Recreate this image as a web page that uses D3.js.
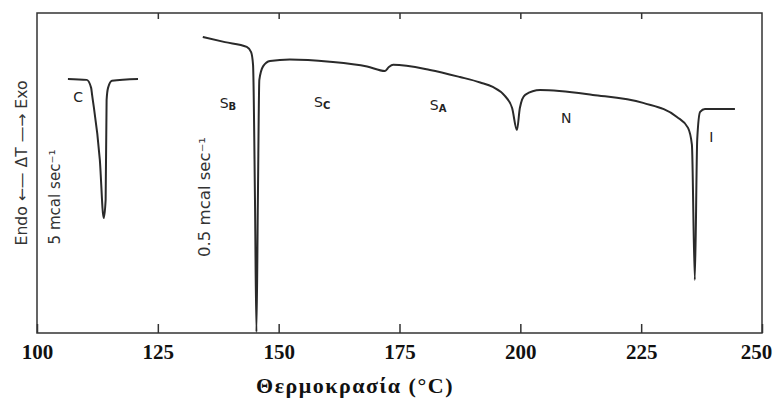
<!DOCTYPE html>
<html>
<head>
    <meta charset="utf-8">
    <title>DSC thermogram</title>
    <script src="https://d3js.org/d3.v7.min.js"></script>
    <style>
        body { margin: 0; background: #fff; }
        .tick text { font-family: "Liberation Serif", serif; font-weight: bold; font-size: 21px; fill: #111; }
        .phase { font-family: "DejaVu Sans", sans-serif; font-size: 14px; fill: #222; }
        .vlab { font-family: "Liberation Sans Narrow", "DejaVu Sans Condensed", sans-serif; font-size: 15px; fill: #333; }
    </style>
</head>
<body>
    <svg id="chart"></svg>

    <script>
        // Temperature ticks (°C)
        const xTicks = [100, 125, 150, 175, 200, 225, 250];

        // Crystal -> smectic peak, recorded at 5 mcal/sec (temperature, signal in arbitrary units)
        const peakTemp = [106.4, 110.3, 111.2, 111.4, 113.0, 113.8, 114.2, 114.4, 114.7, 115.5, 120.9];
        const peakSignal = [79.4, 79.1, 76.6, 74.4, 54.1, 35.9, 41.6, 72.8, 76.6, 78.8, 79.4];

        // Main trace recorded at 0.5 mcal/sec
        const traceTemp = [134.3, 138.9, 143.4, 144.3, 144.7, 145.1, 145.4, 145.7, 146.0, 146.8, 148.2,
            152.3, 160.6, 168.3, 172.0, 172.8, 173.7, 181.3, 187.5, 191.7, 194.3, 196.8, 198.3, 199.3,
            199.9, 201.0, 204.1, 215.0, 225.4, 232.4, 234.7, 235.5, 236.1, 236.6, 237.2, 238.2, 244.4];
        const traceSignal = [92.5, 90.9, 89.4, 87.8, 83.8, 41.6, 0.3, 41.6, 79.1, 83.4, 85.0,
            85.5, 84.8, 83.3, 81.9, 83.1, 83.8, 82.2, 80.0, 78.3, 76.9, 74.1, 70.3, 63.4,
            70.3, 74.4, 75.9, 74.4, 71.9, 67.5, 64.1, 58.8, 16.6, 60.6, 69.1, 70.0, 70.0];

        // Phase labels
        const phaseNames = ['C', 'S', 'S', 'S', 'N', 'I'];
        const phaseSubs = ['', 'B', 'C', 'A', '', ''];
        const phaseTemp = [108.5, 139.5, 159, 183, 209.5, 239.5];
        const phaseSignal = [73.5, 71.5, 72, 71, 67, 61];

        const width = 775;
        const height = 401;
        const plotLeft = 37, plotRight = 762, plotTop = 13, plotBottom = 333;

        const x = d3.scaleLinear().domain([100, 250]).range([plotLeft, plotRight]);
        const y = d3.scaleLinear().domain([0, 100]).range([plotBottom, plotTop]);

        const svg = d3.select('#chart')
            .attr('width', width)
            .attr('height', height);

        // Frame
        svg.append('rect')
            .attr('x', plotLeft).attr('y', plotTop)
            .attr('width', plotRight - plotLeft).attr('height', plotBottom - plotTop)
            .attr('fill', 'none')
            .attr('stroke', '#333')
            .attr('stroke-width', 1.5);

        // Bottom axis, ticks pointing inward
        const xAxis = svg.append('g')
            .attr('transform', `translate(0,${plotBottom})`)
            .call(d3.axisBottom(x).tickValues(xTicks).tickSizeInner(-9).tickSizeOuter(0).tickPadding(11));
        xAxis.select('.domain').remove();
        xAxis.selectAll('.tick line').attr('stroke', '#333').attr('stroke-width', 1.5);
        xAxis.selectAll('.tick text').filter(d => d === 250).attr('dx', -6);

        // Top axis, short ticks only
        const topAxis = svg.append('g')
            .attr('transform', `translate(0,${plotTop})`)
            .call(d3.axisTop(x).tickValues(xTicks.slice(1, -1)).tickSizeInner(-6).tickSizeOuter(0).tickFormat(''));
        topAxis.select('.domain').remove();
        topAxis.selectAll('.tick line').attr('stroke', '#333').attr('stroke-width', 1.5);

        const line = d3.line()
            .x(d => x(d[0]))
            .y(d => y(d[1]))
            .curve(d3.curveMonotoneX);

        svg.append('path')
            .datum(peakTemp.map((t, i) => [t, peakSignal[i]]))
            .attr('d', line)
            .attr('fill', 'none')
            .attr('stroke', '#2a2a2a')
            .attr('stroke-width', 2);

        svg.append('path')
            .datum(traceTemp.map((t, i) => [t, traceSignal[i]]))
            .attr('d', line)
            .attr('fill', 'none')
            .attr('stroke', '#2a2a2a')
            .attr('stroke-width', 2);

        // Phase labels
        const labels = svg.selectAll('.phase')
            .data(phaseNames)
            .enter()
            .append('text')
            .attr('class', 'phase')
            .attr('x', (d, i) => x(phaseTemp[i]))
            .attr('y', (d, i) => y(phaseSignal[i]))
            .attr('text-anchor', 'middle')
            .attr('dominant-baseline', 'middle');
        labels.append('tspan').text(d => d);
        labels.append('tspan')
            .attr('font-size', 10)
            .attr('font-weight', 'bold')
            .attr('dy', 3)
            .text((d, i) => phaseSubs[i]);

        // Rotated labels
        const vlabels = [
            { text: 'Endo \u2190\u2014 \u0394T \u2014\u2192 Exo', cx: 22, cy: 163, len: 165 },
            { text: '5 mcal sec\u207B\u00B9', cx: 55, cy: 197, len: 95 },
            { text: '0.5 mcal sec\u207B\u00B9', cx: 205, cy: 197, len: 120 }
        ];
        svg.selectAll('.vlab')
            .data(vlabels)
            .enter()
            .append('text')
            .attr('class', 'vlab')
            .attr('transform', d => `translate(${d.cx},${d.cy}) rotate(-90)`)
            .attr('text-anchor', 'middle')
            .attr('dominant-baseline', 'middle')
            .attr('textLength', d => d.len)
            .attr('lengthAdjust', 'spacingAndGlyphs')
            .text(d => d.text);

        // Axis title
        svg.append('text')
            .attr('x', 355)
            .attr('y', 393)
            .attr('text-anchor', 'middle')
            .attr('font-family', '"Liberation Serif", serif')
            .attr('font-weight', 'bold')
            .attr('font-size', 22)
            .attr('letter-spacing', 1.5)
            .attr('fill', '#111')
            .text('Θερμοκρασία (°C)');
    </script>
</body>
</html>
